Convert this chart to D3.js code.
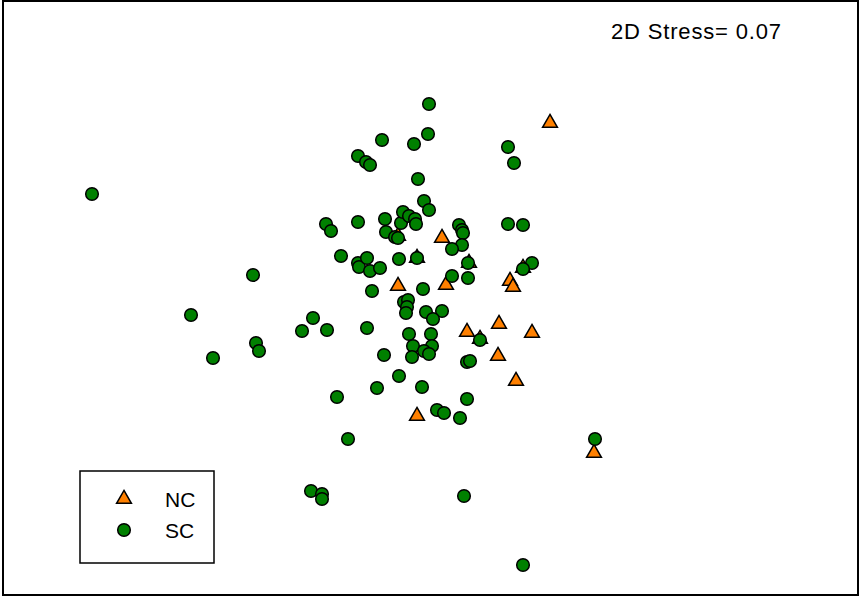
<!DOCTYPE html>
<html lang="en">
<head>
  <meta charset="UTF-8" />
  <title>NMDS ordination NC vs SC</title>
  <script src="https://d3js.org/d3.v7.min.js"></script>
  <style>
    html, body { margin: 0; padding: 0; background: #fff; }
    svg { display: block; }
    text { font-family: "Liberation Sans", Arial, sans-serif; fill: #000; }
  </style>
</head>
<body>
  <svg id="chart" width="861" height="598"></svg>
  <script>
    // NMDS axis 1 / axis 2 scores
    const scX = [-1.69, -1.195, -1.085, -0.885, -0.87, -0.855, -0.64, -0.585, -0.515, -0.52,
      -0.495, -0.445, -0.41, -0.595, -0.54, -0.54, -0.465, -0.36, -0.32, -0.30,
      -0.24, -0.36, -0.36, -0.355, -0.315, -0.30, -0.25, -0.315, -0.29, -0.265,
      -0.23, -0.225, -0.22, -0.175, -0.16, -0.155, -0.155, -0.145, -0.135, -0.105,
      -0.075, -0.07, -0.08, -0.06, -0.03, -0.005, -0.01, -0.005, -0.065, -0.035,
      -0.13, -0.11, -0.115, -0.12, -0.02, 0.06, 0.015, -0.105, 0.005, -0.085,
      0.01, -0.03, -0.005, -0.09, -0.04, 0.035, 0.07, 0.15, 0.185, 0.17,
      0.465, 0.145, 0.16, 0.165, 0.16, 0.11, 0.19, 0.11, 0.19, 0.185,
      0.20, 0.25, 0.39, 0.42, 0.39, 0.465, 0.51, 0.465, 0.825];
    const scY = [0.53, -0.075, -0.29, 0.125, -0.215, -0.255, -0.155, -0.09, -0.15, 0.38,
      0.345, 0.22, -0.695, -0.955, -0.97, -0.995, -0.485, 0.72, 0.69, 0.675,
      0.80, 0.39, 0.185, 0.165, 0.21, 0.145, 0.16, -0.14, 0.045, -0.44,
      -0.275, 0.405, 0.34, 0.315, 0.31, 0.205, -0.38, 0.385, 0.44, 0.42,
      0.405, 0.38, 0.78, 0.605, 0.495, 0.45, 0.83, 0.98, 0.21, 0.055,
      -0.01, 0.0, -0.035, -0.065, -0.06, -0.055, -0.095, -0.17, -0.17, -0.23,
      -0.23, -0.255, -0.27, -0.285, -0.435, -0.55, -0.565, -0.59, -0.495, -0.98,
      -1.325, 0.375, 0.35, 0.335, 0.275, 0.255, 0.185, 0.12, 0.11, -0.31,
      -0.305, -0.20, 0.765, 0.685, 0.38, 0.375, 0.185, 0.155, -0.695];

    const ncX = [0.60, 0.06, -0.16, 0.08, 0.40, 0.415, 0.345, 0.185, 0.51, 0.34,
      0.43, -0.065, 0.82, -0.16, -0.065, 0.195, 0.465, 0.25];
    const ncY = [0.885, 0.31, 0.07, 0.075, 0.095, 0.065, -0.12, -0.16, -0.165, -0.28,
      -0.405, -0.58, -0.765, 0.32, 0.21, 0.185, 0.16, -0.195];

    const groups = ["NC", "SC"];
    const stressLabel = "2D Stress= 0.07";

    const width = 861, height = 598;
    const svg = d3.select("#chart");

    const x = d3.scaleLinear().domain([-2.15, 2.155]).range([0, width]);
    const y = d3.scaleLinear().domain([1.5, -1.49]).range([0, height]);

    const orange = "#ff8000", green = "#008000";
    const tri = d3.symbol().type(d3.symbolTriangle).size(95);

    // frame
    svg.append("rect")
      .attr("x", 3).attr("y", 1)
      .attr("width", 855).attr("height", 594)
      .attr("fill", "none").attr("stroke", "#000").attr("stroke-width", 2);

    // NC first so the circles sit on top
    const nc = ncX.map((v, i) => [v, ncY[i]]);
    const sc = scX.map((v, i) => [v, scY[i]]);

    svg.append("g").selectAll("path")
      .data(nc)
      .enter()
      .append("path")
      .attr("d", tri)
      .attr("transform", d => `translate(${x(d[0])},${y(d[1])})`)
      .attr("fill", orange)
      .attr("stroke", "#000")
      .attr("stroke-width", 1.5);

    svg.append("g").selectAll("circle")
      .data(sc)
      .enter()
      .append("circle")
      .attr("cx", d => x(d[0]))
      .attr("cy", d => y(d[1]))
      .attr("r", 6.3)
      .attr("fill", green)
      .attr("stroke", "#000")
      .attr("stroke-width", 1.5);

    // stress text
    svg.append("text")
      .attr("x", 611).attr("y", 39)
      .attr("font-size", 22)
      .attr("textLength", 170)
      .attr("lengthAdjust", "spacing")
      .text(stressLabel);

    // legend
    const leg = svg.append("g");
    leg.append("rect")
      .attr("x", 80).attr("y", 471)
      .attr("width", 134).attr("height", 92)
      .attr("fill", "#fff").attr("stroke", "#000").attr("stroke-width", 1.5);

    groups.forEach((g, i) => {
      const cy = 499 + i * 31;
      if (g === "NC") {
        leg.append("path")
          .attr("d", tri)
          .attr("transform", `translate(124,${cy})`)
          .attr("fill", orange).attr("stroke", "#000").attr("stroke-width", 1.5);
      } else {
        leg.append("circle")
          .attr("cx", 124).attr("cy", cy).attr("r", 6.3)
          .attr("fill", green).attr("stroke", "#000").attr("stroke-width", 1.5);
      }
      leg.append("text")
        .attr("x", 165).attr("y", cy + 8)
        .attr("font-size", 21)
        .text(g);
    });
  </script>
</body>
</html>
